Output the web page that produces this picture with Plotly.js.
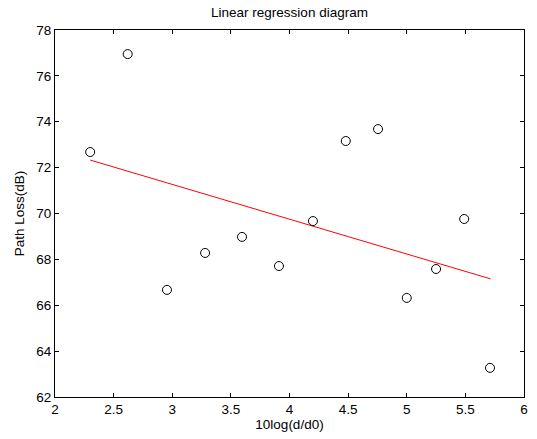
<!DOCTYPE html>
<html>
<head>
<meta charset="utf-8">
<script src="https://cdn.plot.ly/plotly-3.0.1.min.js"></script>
<style>html,body{margin:0;padding:0;background:#fff;}#chart{width:537px;height:439px;}</style>
</head>
<body>
<div id="chart"></div>
<script>
// Measured data points
const distLog = [2.30, 2.62, 2.955, 3.28, 3.595, 3.91, 4.20, 4.48, 4.755, 5.00, 5.25, 5.49, 5.71];
const pathLoss = [72.68, 76.95, 66.67, 68.28, 68.98, 67.71, 69.67, 73.16, 73.68, 66.32, 67.58, 69.76, 63.27];
// Regression line end points
const fitX = [2.30, 5.715];
const fitY = [72.33, 67.15];
const xTicks = [2, 2.5, 3, 3.5, 4, 4.5, 5, 5.5, 6];
const yTicks = [62, 64, 66, 68, 70, 72, 74, 76, 78];

const font = 'Liberation Sans, Arial, sans-serif';

const data = [
  {x: fitX, y: fitY, type: 'scatter', mode: 'lines', line: {color: '#ff0000', width: 1}, hoverinfo: 'skip'},
  {x: distLog, y: pathLoss, type: 'scatter', mode: 'markers',
   marker: {symbol: 'circle-open', size: 9, color: '#000', line: {width: 1, color: '#000'}}}
];

const layout = {
  width: 537, height: 439,
  margin: {l: 55, r: 13, t: 30, b: 42},
  paper_bgcolor: '#fff', plot_bgcolor: '#fff',
  showlegend: false,
  font: {family: font, color: '#000', size: 12},
  title: {text: 'Linear regression diagram', font: {family: font, size: 13.5, color: '#000'},
          xref: 'paper', x: 0.5, xanchor: 'center', y: 0.972, yanchor: 'middle'},
  xaxis: {
    range: [2, 6], tickvals: xTicks, ticktext: xTicks.map(String),
    ticks: 'inside', ticklen: 4, tickcolor: '#000', mirror: 'ticks',
    showline: true, linecolor: '#000', linewidth: 1, showgrid: false, zeroline: false,
    tickfont: {family: font, size: 13.5},
    title: {text: '10log(d/d0)', font: {family: font, size: 13.5}, standoff: 3}
  },
  yaxis: {
    range: [62, 78], tickvals: yTicks, ticktext: yTicks.map(String),
    ticks: 'inside', ticklen: 4, tickcolor: '#000', mirror: 'ticks',
    showline: true, linecolor: '#000', linewidth: 1, showgrid: false, zeroline: false,
    tickfont: {family: font, size: 13.5},
    title: {text: 'Path Loss(dB)', font: {family: font, size: 13.5}, standoff: 8}
  }
};

Plotly.newPlot('chart', data, layout, {staticPlot: true, displayModeBar: false});
</script>
</body>
</html>
